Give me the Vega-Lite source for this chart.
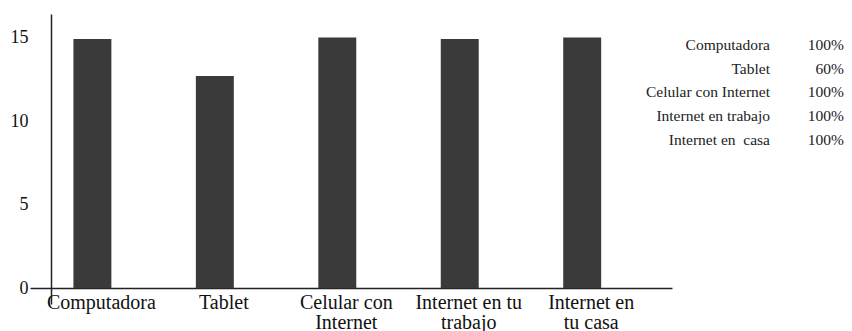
{
  "$schema": "https://vega.github.io/schema/vega-lite/v6.json",
  "padding": {"left": 10, "top": 14, "right": 0, "bottom": 0},
  "bounds": "flush",
  "spacing": 0,
  "config": {
    "view": {"stroke": null},
    "font": "Liberation Serif, Times New Roman, serif",
    "text": {"font": "Liberation Serif, Times New Roman, serif"}
  },
  "hconcat": [
    {
      "width": 642,
      "height": 290,
      "data": {
        "values": [
          {"dispositivo": "Computadora", "valor": 14.9},
          {"dispositivo": "Tablet", "valor": 12.7},
          {"dispositivo": "Celular con Internet", "valor": 15.0},
          {"dispositivo": "Internet en tu trabajo", "valor": 14.9},
          {"dispositivo": "Internet en tu casa", "valor": 15.0}
        ]
      },
      "mark": {"type": "bar", "color": "#3a3a3a"},
      "encoding": {
        "x": {
          "field": "dispositivo",
          "type": "nominal",
          "sort": null,
          "scale": {"paddingInner": 0.69, "paddingOuter": 0.4665, "align": 0.38},
          "axis": {
            "title": null,
            "orient": "bottom",
            "offset": -16,
            "labelAngle": 0,
            "ticks": false,
            "tickSize": 0,
            "labelPadding": 4,
            "labelFont": "Liberation Serif, Times New Roman, serif",
            "labelFontSize": 20,
            "labelLineHeight": 20,
            "labelOffset": 9,
            "labelColor": "#111",
            "domainColor": "#222",
            "domainWidth": 1.5,
            "labelExpr": "datum.label == 'Celular con Internet' ? ['Celular con', 'Internet'] : datum.label == 'Internet en tu trabajo' ? ['Internet en tu', 'trabajo'] : datum.label == 'Internet en tu casa' ? ['Internet en', 'tu casa'] : datum.label"
          }
        },
        "y": {
          "field": "valor",
          "type": "quantitative",
          "scale": {"domain": [-0.94, 16.4], "nice": false, "zero": false},
          "axis": {
            "title": null,
            "values": [0, 5, 10, 15],
            "offset": -21,
            "ticks": false,
            "tickSize": 0,
            "grid": false,
            "labelPadding": 23,
            "labelFont": "Liberation Serif, Times New Roman, serif",
            "labelFontSize": 18,
            "labelColor": "#111",
            "domainColor": "#222",
            "domainWidth": 1.5
          }
        },
        "y2": {"datum": 0}
      }
    },
    {
      "width": 172,
      "height": 126,
      "data": {
        "values": [
          {"uso": "Computadora", "pct": 1.0},
          {"uso": "Tablet", "pct": 0.6},
          {"uso": "Celular con Internet", "pct": 1.0},
          {"uso": "Internet en trabajo", "pct": 1.0},
          {"uso": "Internet en\u00a0 casa", "pct": 1.0}
        ]
      },
      "encoding": {
        "y": {
          "field": "uso",
          "type": "nominal",
          "sort": null,
          "scale": {"type": "point", "padding": 0.65, "align": 1},
          "axis": null
        }
      },
      "layer": [
        {
          "mark": {"type": "text", "align": "right", "baseline": "middle", "fontSize": 15.5, "color": "#222", "font": "Liberation Serif, Times New Roman, serif"},
          "encoding": {
            "x": {
              "datum": "etiqueta",
              "type": "nominal",
              "scale": {"type": "point", "domain": ["etiqueta", "porcentaje"], "padding": 0.662, "align": 1},
              "axis": null
            },
            "text": {"field": "uso"}
          }
        },
        {
          "mark": {"type": "text", "align": "right", "baseline": "middle", "fontSize": 15.5, "color": "#222", "font": "Liberation Serif, Times New Roman, serif"},
          "encoding": {
            "x": {"datum": "porcentaje", "type": "nominal"},
            "text": {"field": "pct", "type": "quantitative", "format": ".0%"}
          }
        }
      ]
    }
  ]
}
